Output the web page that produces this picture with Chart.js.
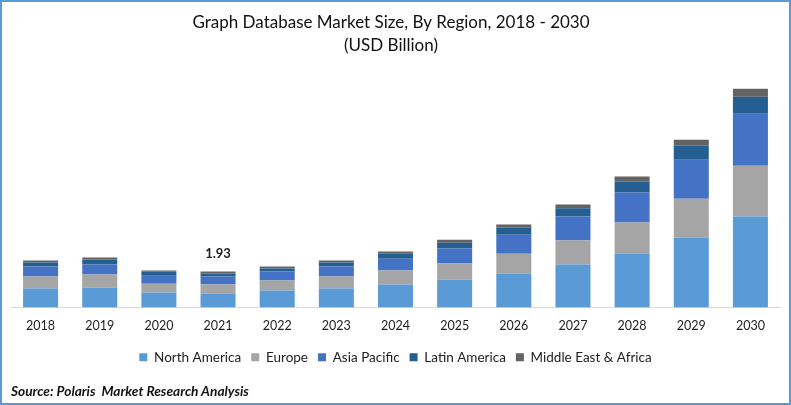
<!DOCTYPE html>
<html>
<head>
<meta charset="utf-8">
<script src="https://cdn.jsdelivr.net/npm/chart.js@4"></script>
<style>
    html, body { margin: 0; padding: 0; background: #fff; }
    #frame { position: relative; width: 791px; height: 405px; overflow: hidden; }
    #frame:after { content: ''; position: absolute; left: 0; top: 0; right: 0; bottom: 0; border: 2px solid #5b9bd5; pointer-events: none; }
    #source { position: absolute; left: 11px; top: 382px; font: italic bold 13.7px Lato, sans-serif; color: #111; }
</style>
</head>
<body>
<div id="frame">
    <canvas id="chart" width="791" height="405"></canvas>
    <div id="source">Source: Polaris&nbsp; Market Research Analysis</div>
</div>
<script>
const years = ['2018', '2019', '2020', '2021', '2022', '2023', '2024', '2025', '2026', '2027', '2028', '2029', '2030'];
const northAmerica = [1.02, 1.07, 0.80, 0.75, 0.91, 1.02, 1.23, 1.50, 1.82, 2.31, 2.90, 3.75, 4.88];
const europe = [0.64, 0.70, 0.48, 0.48, 0.54, 0.64, 0.75, 0.86, 1.07, 1.29, 1.66, 2.09, 2.73];
const asiaPacific = [0.54, 0.54, 0.43, 0.43, 0.48, 0.54, 0.64, 0.80, 1.02, 1.29, 1.61, 2.09, 2.79];
const latinAmerica = [0.21, 0.27, 0.21, 0.16, 0.16, 0.21, 0.27, 0.32, 0.38, 0.43, 0.59, 0.75, 0.91];
const middleEastAfrica = [0.11, 0.11, 0.06, 0.11, 0.11, 0.11, 0.11, 0.16, 0.16, 0.21, 0.27, 0.32, 0.43];
const calloutYear = '2021';
const calloutText = '1.93';

// total label above one bar, there is no datalabels plugin here
const callout = {
    id: 'callout',
    afterDatasetsDraw(chart) {
        const i = years.indexOf(calloutYear);
        const last = chart.getDatasetMeta(chart.data.datasets.length - 1).data[i];
        const ctx = chart.ctx;
        ctx.save();
        ctx.font = 'bold 13px Lato, sans-serif';
        ctx.fillStyle = '#222';
        ctx.textAlign = 'center';
        ctx.textBaseline = 'bottom';
        ctx.fillText(calloutText, last.x, last.y - 11);
        ctx.restore();
    }
};

// the title sits a bit left of the plot centre in the original
const titleShift = {
    id: 'titleShift',
    afterLayout(chart) {
        chart.titleBlock.left -= 4.5;
        chart.titleBlock.right -= 4.5;
    }
};

function series(label, data, color) {
    return { label, data, backgroundColor: color, borderWidth: 0 };
}

new Chart(document.getElementById('chart').getContext('2d'), {
    type: 'bar',
    data: {
        labels: years,
        datasets: [
            series('North America', northAmerica, '#5b9bd5'),
            series('Europe', europe, '#a5a5a5'),
            series('Asia Pacific', asiaPacific, '#4472c4'),
            series('Latin America', latinAmerica, '#255e91'),
            series('Middle East & Africa', middleEastAfrica, '#636363')
        ]
    },
    options: {
        responsive: false,
        animation: false,
        layout: { padding: { left: 11, right: 11, top: 11, bottom: 31 } },
        datasets: { bar: { categoryPercentage: 1, barPercentage: 0.592 } },
        plugins: {
            tooltip: { enabled: false },
            title: {
                display: true,
                text: ['Graph Database Market Size, By Region, 2018 - 2030', '(USD Billion)'],
                color: '#111',
                font: { family: 'Lato, sans-serif', size: 17, weight: 'normal', lineHeight: 1.35 },
                padding: { top: 0, bottom: 27 }
            },
            legend: {
                position: 'bottom',
                labels: {
                    boxWidth: 8,
                    boxHeight: 8,
                    padding: 10,
                    color: '#222',
                    font: { family: 'Lato, sans-serif', size: 13.5 }
                }
            }
        },
        scales: {
            x: {
                stacked: true,
                grid: { display: false },
                border: { color: '#d9d9d9' },
                ticks: { color: '#222', font: { family: 'Lato, sans-serif', size: 12.5 }, padding: 3, maxRotation: 0 },
                afterFit(scale) { scale.height += 4; }
            },
            y: { stacked: true, display: false, min: 0, max: 12 }
        }
    },
    plugins: [callout, titleShift]
});
</script>
</body>
</html>
